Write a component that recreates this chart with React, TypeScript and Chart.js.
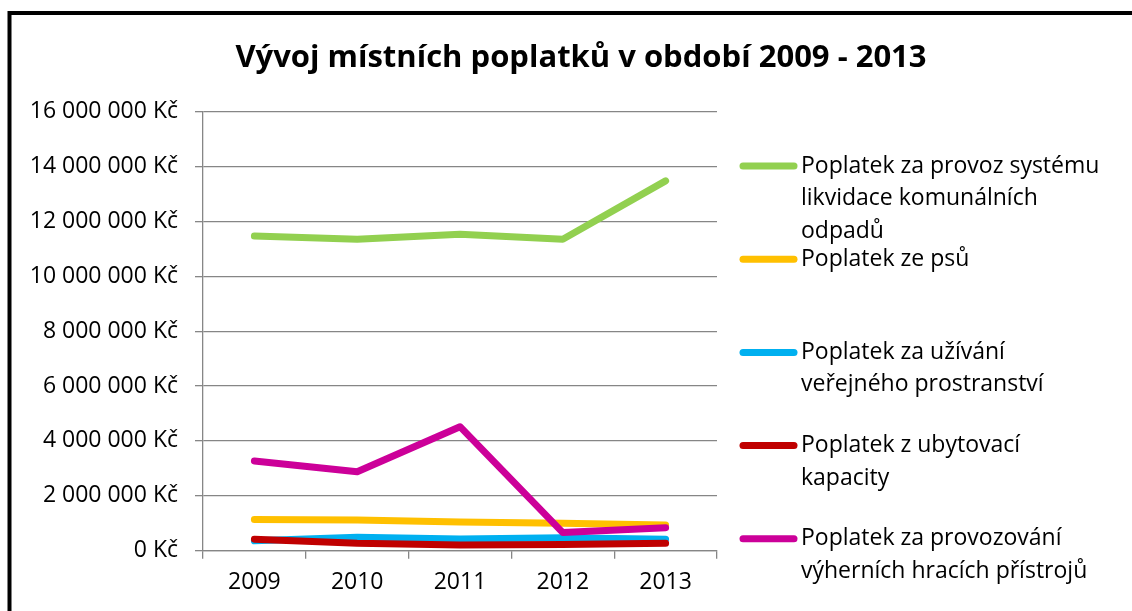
import React, { useEffect, useRef } from "react";
import { Chart, registerables } from "chart.js";

Chart.register(...registerables);

const titleText = "Vývoj místních poplatků v období 2009 - 2013";
const years = ["2009", "2010", "2011", "2012", "2013"];
const odpadyValues = [11470000, 11350000, 11530000, 11350000, 13480000];
const psiValues = [1140000, 1120000, 1050000, 1000000, 940000];
const verejnyValues = [360000, 490000, 430000, 470000, 420000];
const ubytovaciValues = [420000, 270000, 210000, 230000, 270000];
const automatyValues = [3270000, 2880000, 4520000, 660000, 840000];

const seriesLabelLines = [
  ["Poplatek za provoz systému", "likvidace komunálních", "odpadů"],
  ["Poplatek ze psů"],
  ["Poplatek za užívání", "veřejného prostranství"],
  ["Poplatek z ubytovací", "kapacity"],
  ["Poplatek za provozování", "výherních hracích přístrojů"],
];
const seriesValues = [odpadyValues, psiValues, verejnyValues, ubytovaciValues, automatyValues];
const seriesColors = ["#92D050", "#FFC000", "#00B0F0", "#C00000", "#CC0099"];

const yMin = 0;
const yMax = 16000000;
const yStep = 2000000;

const FONT = "'Open Sans', sans-serif";

const formatKc = (v: number) =>
  String(Math.round(v)).replace(/\B(?=(\d{3})+(?!\d))/g, " ") + " Kč";

const decorPlugin = {
  id: "decor",
  afterDraw(chart: any) {
    const ctx = chart.ctx;
    ctx.save();
    // outer border
    ctx.strokeStyle = "#000";
    ctx.lineWidth = 4;
    ctx.strokeRect(9.5, 13, 1200, 700);
    // title
    ctx.fillStyle = "#000";
    ctx.font = `bold 31px ${FONT}`;
    ctx.textAlign = "center";
    ctx.textBaseline = "middle";
    ctx.fillText(titleText, 581, 58);
    // legend
    ctx.font = `23px ${FONT}`;
    ctx.textAlign = "left";
    chart.data.datasets.forEach((ds: any, i: number) => {
      const y0 = 166 + 93.2 * i;
      ctx.strokeStyle = ds.borderColor;
      ctx.lineWidth = 7;
      ctx.lineCap = "round";
      ctx.beginPath();
      ctx.moveTo(743, y0);
      ctx.lineTo(794, y0);
      ctx.stroke();
      ctx.fillStyle = "#000";
      const lines: string[] = ds.legendLines;
      lines.forEach((ln, j) => {
        ctx.fillText(ln, 801, y0 + j * 32.5);
      });
    });
    ctx.restore();
  },
};

export default function App() {
  const ref = useRef<HTMLCanvasElement | null>(null);
  useEffect(() => {
    if (!ref.current) return;
    const n = seriesValues.length;
    const chart = new Chart(ref.current, {
      type: "line",
      data: {
        labels: years,
        datasets: seriesValues.map((vals, i) => ({
          label: seriesLabelLines[i].join(" "),
          legendLines: seriesLabelLines[i],
          data: vals,
          borderColor: seriesColors[i],
          backgroundColor: seriesColors[i],
          borderWidth: 7,
          pointRadius: 0,
          pointHoverRadius: 0,
          tension: 0,
          borderCapStyle: "round",
          borderJoinStyle: "round",
          order: n - i,
        })) as any,
      },
      options: {
        responsive: false,
        animation: false,
        layout: { padding: { left: 0, right: 415, top: 111.7, bottom: 0 } },
        plugins: {
          legend: { display: false },
          title: { display: false },
          tooltip: { enabled: false },
        },
        scales: {
          x: {
            type: "category",
            offset: true,
            grid: {
              offset: true,
              drawOnChartArea: false,
              drawTicks: true,
              tickLength: 8,
              color: "#868686",
              lineWidth: 1.3,
            },
            border: { color: "#868686", width: 1.3 },
            ticks: {
              color: "#000",
              font: { family: FONT, size: 23 },
              padding: 10,
              maxRotation: 0,
            },
            afterFit: (s: any) => {
              s.height = 60.3;
            },
          },
          y: {
            min: yMin,
            max: yMax,
            grid: {
              color: "#868686",
              lineWidth: 1.3,
              tickLength: 8,
            },
            border: { color: "#868686", width: 1.3 },
            ticks: {
              stepSize: yStep,
              color: "#000",
              font: { family: FONT, size: 23 },
              padding: 17,
              callback: (v: any) => formatKc(Number(v)),
            },
            afterFit: (s: any) => {
              s.width = 203;
            },
          },
        },
      },
      plugins: [decorPlugin],
    });
    return () => chart.destroy();
  }, []);
  return (
    <div style={{ position: "absolute", left: 0, top: 0, width: 1132, height: 611, background: "#fff" }}>
      <canvas ref={ref} width={1132} height={611} />
    </div>
  );
}
